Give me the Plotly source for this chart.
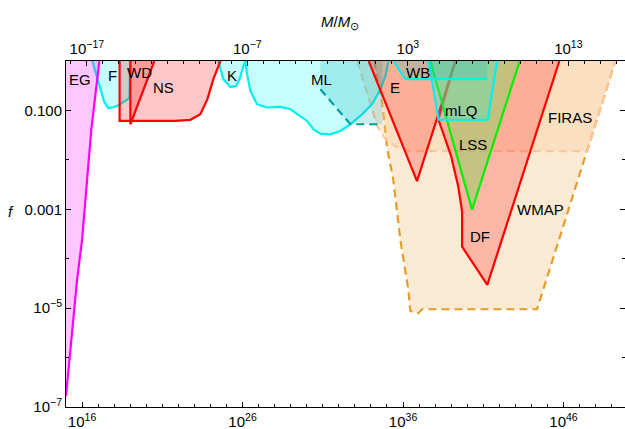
import plotly.graph_objects as go

# ---- data (log10 of mass in grams, log10 of f) ----
EG_logM = [15.0, 15.69, 16.0, 16.58, 17.08]
EG_logf = [-6.78, -4.43, -3.62, -1.38, 0.0]

F_logM = [16.64, 16.89, 17.14, 17.39, 17.64, 17.95, 18.26, 18.57, 18.95, 19.01]
F_logf = [0.0, -0.265, -0.569, -0.834, -0.955, -0.935, -0.894, -0.834, -0.753, 0.0]

NS_logM = [18.34, 18.34, 21.81, 22.75, 23.37, 23.81, 24.18, 24.62]
NS_logf = [0.0, -1.213, -1.213, -1.19, -1.077, -0.772, -0.366, 0.0]

WD_logM = [19.01, 19.01, 20.5]
WD_logf = [0.0, -1.28, 0.0]

K_logM = [24.49, 24.80, 25.24, 25.61, 25.86, 25.99, 26.17]
K_logf = [0.0, -0.366, -0.529, -0.508, -0.325, -0.162, 0.0]

ML_logM = [26.17, 26.28, 26.49, 26.90, 27.53, 28.36, 28.98, 29.60, 30.02, 30.43,
           30.85, 31.47, 32.09, 32.72, 33.45, 34.07, 34.59, 34.90, 35.10]
ML_logf = [0.0, -0.265, -0.604, -0.874, -0.941, -0.929, -0.976, -1.112, -1.213, -1.382,
           -1.469, -1.483, -1.416, -1.28, -1.077, -0.874, -0.570, -0.300, 0.0]

ML2_logM = [30.85, 30.85, 32.72, 34.71, 34.71]
ML2_logf = [0.0, -0.570, -1.28, -1.28, 0.0]

WMAP_logM = [34.21, 34.71, 35.02, 35.39, 35.83, 36.33, 36.45, 36.95, 37.18, 44.35, 49.23]
WMAP_logf = [0.0, -0.874, -1.786, -2.395, -3.613, -4.629, -5.057, -5.104, -5.022, -5.022, 0.0]

FIRAS_logM = [33.15, 34.40, 34.90, 35.52, 36.45, 47.48, 49.23]
FIRAS_logf = [0.0, -1.32, -1.58, -1.727, -1.822, -1.822, 0.0]

E_logM = [33.86, 36.87, 39.26]
E_logf = [0.0, -2.43, 0.0]

DF_logM = [39.26, 38.20, 39.0, 39.44, 39.68, 39.68, 41.25, 45.74]
DF_logf = [0.0, -1.179, -1.93, -2.539, -3.047, -3.756, -4.529, 0.0]

LSS_logM = [37.70, 40.30, 43.27]
LSS_logf = [0.0, -3.006, 0.0]

mLQ_logM = [37.60, 38.22, 41.28, 41.86]
mLQ_logf = [0.0, -1.189, -1.189, 0.0]

WB_logM = [35.40, 35.71, 36.14, 41.25, 41.25]
WB_logf = [0.0, -0.163, -0.366, -0.366, 0.0]

labels = ["EG", "F", "WD", "NS", "K", "ML", "E", "WB", "mLQ", "LSS", "FIRAS", "WMAP", "DF"]
label_logM = [15.89, 17.89, 19.60, 21.10, 25.36, 30.90, 35.52, 36.95, 39.67, 40.38, 46.42, 44.58, 40.80]
label_logf = [-0.366, -0.29, -0.23, -0.53, -0.29, -0.366, -0.53, -0.23, -1.00, -1.686, -1.14, -3.01, -3.56]

x_ticks = [16, 26, 36, 46]
x_ticktext = ["10<sup>16</sup>", "10<sup>26</sup>", "10<sup>36</sup>", "10<sup>46</sup>"]
top_ticks = [-17, -7, 3, 13]
top_ticktext = ["10<sup>\u221217</sup>", "10<sup>\u22127</sup>", "10<sup>3</sup>", "10<sup>13</sup>"]
y_ticks = [-7, -5, -3, -1]
y_ticktext = ["10<sup>\u22127</sup>", "10<sup>\u22125</sup>", "0.001", "0.100"]
LOG_MSUN = 33.3

XMIN, XMAX = 15.0, 49.83
YMIN, YMAX = -7.0, 0.0

RED = "rgb(255,0,0)"
CYAN = "rgb(0,240,240)"
FONT = "Liberation Sans"
fig = go.Figure()


def region(xs, ys, fillcolor, linecolor=None, dash="solid", width=2.2,
           line_x=None, line_y=None):
    fig.add_trace(go.Scatter(x=xs, y=ys, mode="lines", fill="toself",
                             fillcolor=fillcolor, line=dict(width=0),
                             hoverinfo="skip", showlegend=False))
    if linecolor:
        lx = line_x if line_x is not None else xs
        ly = line_y if line_y is not None else ys
        fig.add_trace(go.Scatter(x=lx, y=ly, mode="lines",
                                 line=dict(color=linecolor, width=width, dash=dash),
                                 hoverinfo="skip", showlegend=False))


# background constraints
region(WMAP_logM, WMAP_logf, "rgba(230,160,60,0.22)", "rgb(226,158,40)", dash="8px,5px")
region(FIRAS_logM, FIRAS_logf, "rgba(255,200,150,0.30)", "rgb(255,198,150)", dash="8px,5px")
# microlensing
region(ML_logM, ML_logf, "rgba(0,255,255,0.22)", CYAN)
region(ML2_logM, ML2_logf, "rgba(0,160,170,0.20)", "rgb(0,160,160)", dash="8px,5px",
       line_x=ML2_logM[1:4], line_y=ML2_logf[1:4])
region(K_logM, K_logf, "rgba(0,255,255,0.22)", CYAN)
region(F_logM, F_logf, "rgba(0,255,255,0.22)", CYAN)
region(NS_logM, NS_logf, "rgba(255,0,0,0.22)", RED)
region(WD_logM, WD_logf, "rgba(255,0,0,0.22)", RED)
region([XMIN] + EG_logM + [XMIN], [EG_logf[0]] + EG_logf + [0.0],
       "rgba(255,0,255,0.22)", "rgb(255,0,255)", line_x=EG_logM, line_y=EG_logf)
region(E_logM, E_logf, "rgba(255,0,0,0.22)", RED)
region(DF_logM, DF_logf, "rgba(255,0,0,0.22)", RED)
region(LSS_logM, LSS_logf, "rgba(140,210,100,0.5)", "rgb(0,240,0)")
region(mLQ_logM, mLQ_logf, "rgba(0,255,255,0.22)", CYAN)
region(WB_logM, WB_logf, "rgba(0,200,200,0.22)", CYAN,
       line_x=WB_logM[:4], line_y=WB_logf[:4])

# region labels
for t, xv, yv in zip(labels, label_logM, label_logf):
    fig.add_annotation(x=xv, y=yv, text=t, showarrow=False,
                       font=dict(size=15, color="black", family=FONT))

# invisible traces so that the top and right axes exist
fig.add_trace(go.Scatter(x=[XMIN - LOG_MSUN], y=[YMIN], xaxis="x2", mode="markers",
                         marker=dict(opacity=0), hoverinfo="skip", showlegend=False))
fig.add_trace(go.Scatter(x=[XMIN], y=[YMIN], yaxis="y2", mode="markers",
                         marker=dict(opacity=0), hoverinfo="skip", showlegend=False))

font = dict(family=FONT, size=15, color="black")
common = dict(showgrid=False, zeroline=False, automargin=False,
              ticks="inside", ticklen=5, tickcolor="black", tickmode="array",
              tickfont=font)
minor = lambda t0: dict(tickmode="linear", tick0=t0, dtick=1, ticklen=3,
                        ticks="inside", tickcolor="black", showgrid=False)
fig.update_layout(
    width=625, height=429,
    margin=dict(l=66, r=0, t=61, b=22),
    paper_bgcolor="white", plot_bgcolor="white",
    font=font,
    xaxis=dict(range=[XMIN, XMAX], showline=True, linecolor="black", linewidth=1,
               tickvals=x_ticks, ticktext=x_ticktext, minor=minor(15),
               ticklabelstandoff=1, **common),
    xaxis2=dict(range=[XMIN - LOG_MSUN, XMAX - LOG_MSUN], overlaying="x", side="top",
                anchor="y", showline=True, linecolor="black", linewidth=1,
                tickvals=top_ticks, ticktext=top_ticktext, minor=minor(-17), **common),
    yaxis=dict(range=[YMIN, YMAX], showline=True, linecolor="black", linewidth=1,
               tickvals=y_ticks, ticktext=y_ticktext, minor=minor(-7), **common),
    yaxis2=dict(range=[YMIN, YMAX], overlaying="y", side="right", anchor="x",
                showline=False, tickvals=y_ticks, showticklabels=False,
                minor=minor(-7), **common),
)

fig.add_annotation(xref="paper", yref="paper", x=-0.108, y=0.565, text="<i>f</i>",
                   showarrow=False, font=dict(size=15, family=FONT))
fig.add_annotation(xref="paper", yref="paper", x=0.49, y=1.0, yshift=50,
                   text="<i>M</i>/<i>M</i><sub>\u2299</sub>", showarrow=False,
                   font=dict(size=15, family=FONT))

fig.write_html("out.html", config={"displayModeBar": False},
               post_script="document.body.style.margin='0';"
                           "document.body.style.overflow='hidden';")
